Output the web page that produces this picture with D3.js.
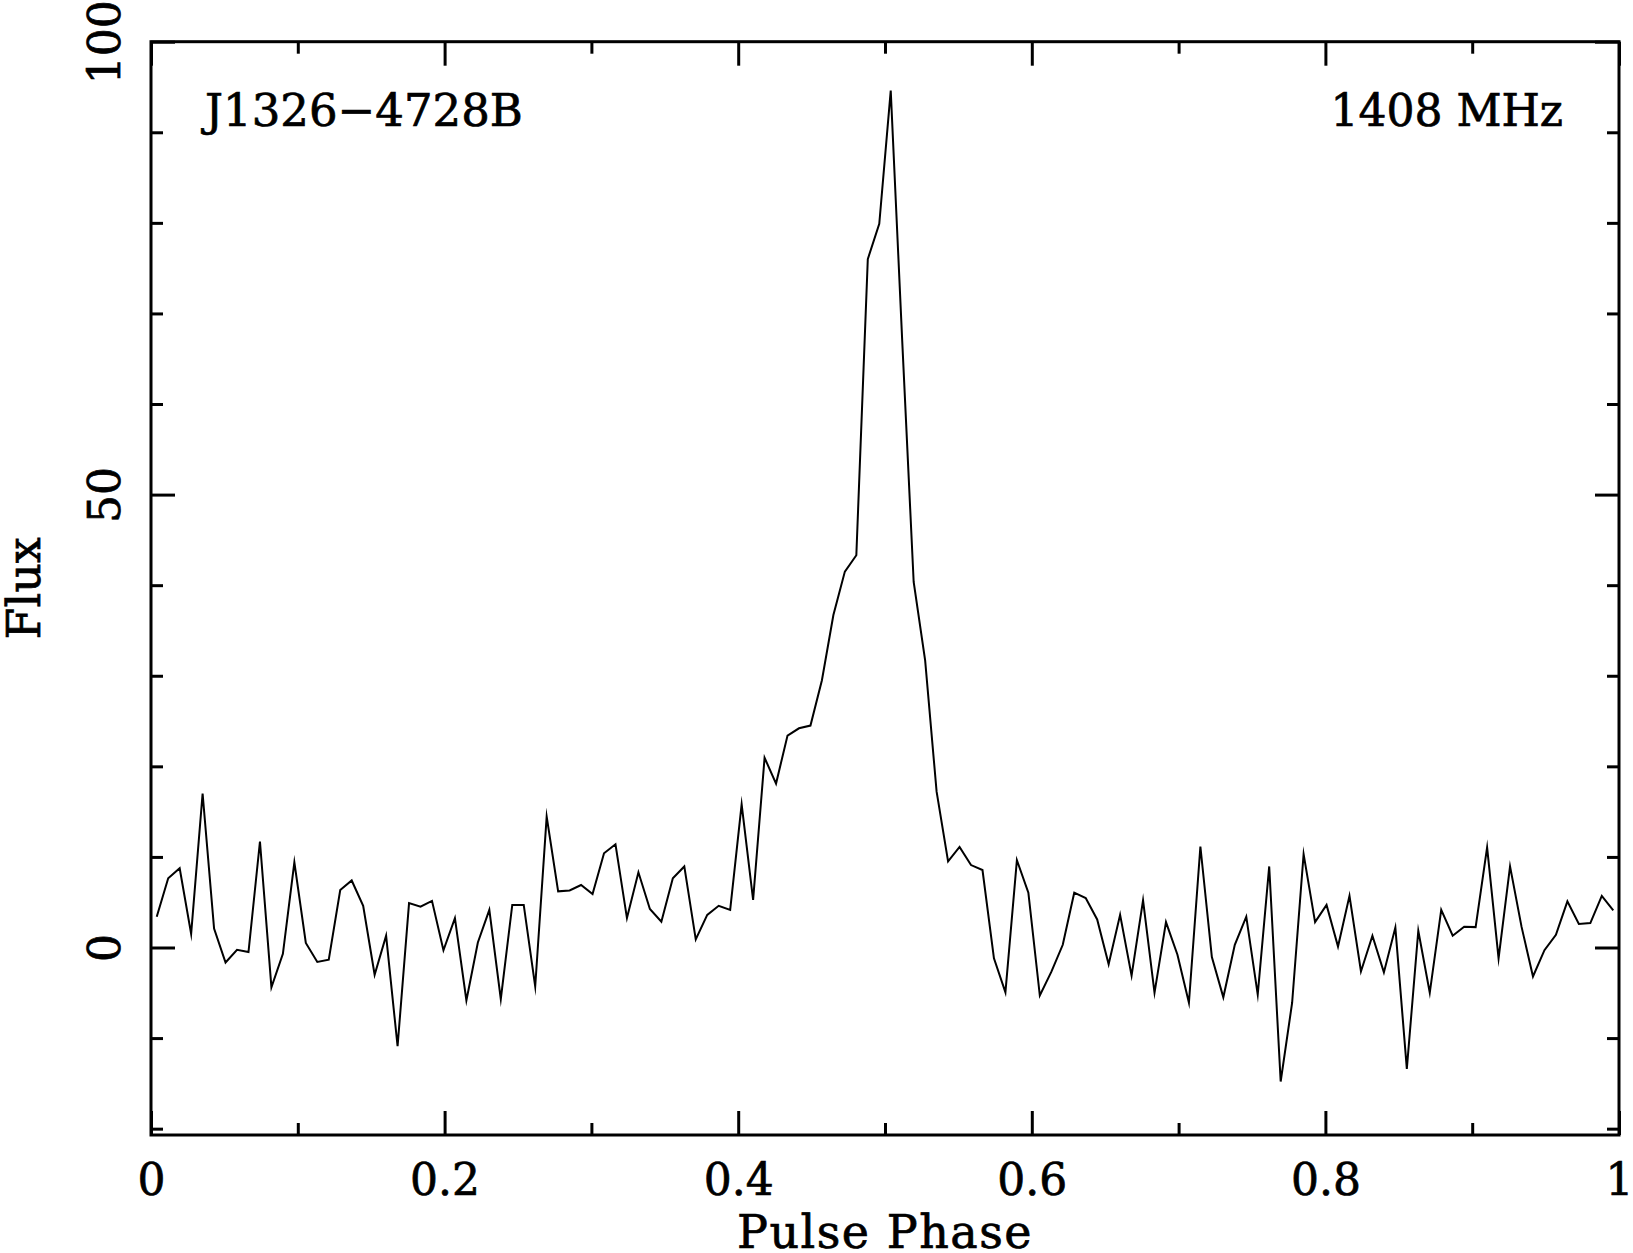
<!DOCTYPE html>
<html>
<head>
<meta charset="utf-8">
<script src="https://cdn.jsdelivr.net/npm/d3@7"></script>
<style>
  html, body { margin: 0; padding: 0; background: #fff; }
  svg { display: block; }
  text { font-family: "DejaVu Serif", serif; fill: #000; stroke: #000; stroke-width: 0.7px; }
</style>
</head>
<body>
<svg id="chart" width="1633" height="1253"></svg>
<script>
// ---- Data ----
const fluxValues = [
  3.4, 7.65, 8.75, 1.5, 17.0, 2.1, -1.65, -0.25, -0.5, 11.7,
  -4.4, -0.7, 9.4, 0.5, -1.6, -1.35, 6.35, 7.4, 4.6, -3.0,
  1.3, -10.9, 4.9, 4.5, 5.15, -0.3, 3.25, -5.85, 0.55, 4.15,
  -5.7, 4.7, 4.7, -4.3, 14.45, 6.2, 6.3, 6.9, 5.9, 10.4,
  11.4, 3.25, 8.3, 4.25, 2.85, 7.65, 8.95, 0.9, 3.6, 4.6,
  4.15, 15.8, 5.25, 20.95, 18.1, 23.4, 24.2, 24.5, 29.5, 36.7,
  41.5, 43.3, 76.0, 79.9, 94.6, 67.0, 40.35, 31.7, 17.2, 9.5,
  11.1, 9.1, 8.55, -1.2, -4.95, 9.65, 6.05, -5.3, -2.7, 0.3,
  6.05, 5.45, 3.1, -1.85, 3.6, -3.1, 5.2, -5.0, 2.8, -0.8,
  -6.1, 11.15, -1.05, -5.5, 0.3, 3.4, -5.2, 8.95, -14.8, -6.1,
  10.3, 2.8, 4.7, 0.1, 5.7, -2.65, 1.3, -2.75, 2.2, -13.4,
  1.85, -5.0, 4.15, 1.3, 2.3, 2.25, 11.05, -1.2, 8.95, 2.3,
  -3.2, -0.3, 1.4, 5.1, 2.6, 2.7, 5.7, 4.1
];
const nBins = 128;                    // profile bins over one rotation
const xMajorTicks = [0, 0.2, 0.4, 0.6, 0.8, 1];
const xTickLabels = ["0", "0.2", "0.4", "0.6", "0.8", "1"];
const xMinorTicks = [0.1, 0.3, 0.5, 0.7, 0.9];
const yMajorTicks = [0, 50, 100];
const yTickLabels = ["0", "50", "100"];
const yMinorTicks = [-20, -10, 10, 20, 30, 40, 60, 70, 80, 90];
const xDomain = [0, 1];
const yDomain = [-20.7, 100];
const sourceName = "J1326\u22124728B";
const frequencyLabel = "1408 MHz";
const xTitle = "Pulse Phase";
const yTitle = "Flux";

// ---- Layout ----
const frame = { left: 151, right: 1619, top: 41.7, bottom: 1135 };
const fontSize = 44;

const svg = d3.select("#chart");
svg.append("rect").attr("width", 1633).attr("height", 1253).attr("fill", "#fff");

const x = d3.scaleLinear().domain(xDomain).range([frame.left, frame.right]);
const y = d3.scaleLinear().domain(yDomain).range([frame.bottom, frame.top]);

const points = fluxValues.map((v, i) => ({ phase: (i + 0.5) / nBins, flux: v }));

// ---- Axes (ticks pointing inward on all four sides) ----
function styleAxis(g) {
  g.select(".domain").remove();
  g.selectAll(".tick line").attr("stroke", "#000").attr("stroke-width", 3);
}

const majorLen = 24, minorLen = 12;

// bottom
const gBottom = svg.append("g").attr("transform", `translate(0,${frame.bottom})`)
  .call(d3.axisBottom(x).tickValues(xMajorTicks).tickSize(-majorLen)
    .tickFormat((d, i) => xTickLabels[i]));
gBottom.call(styleAxis);
gBottom.selectAll(".tick text")
  .attr("y", 60).attr("dy", null)
  .attr("font-size", fontSize).attr("font-family", "DejaVu Serif, serif").attr("fill", "#000");
svg.append("g").attr("transform", `translate(0,${frame.bottom})`)
  .call(d3.axisBottom(x).tickValues(xMinorTicks).tickSize(-minorLen).tickFormat(""))
  .call(styleAxis);

// top
svg.append("g").attr("transform", `translate(0,${frame.top})`)
  .call(d3.axisTop(x).tickValues(xMajorTicks).tickSize(-majorLen).tickFormat(""))
  .call(styleAxis);
svg.append("g").attr("transform", `translate(0,${frame.top})`)
  .call(d3.axisTop(x).tickValues(xMinorTicks).tickSize(-minorLen).tickFormat(""))
  .call(styleAxis);

// left
const gLeft = svg.append("g").attr("transform", `translate(${frame.left},0)`)
  .call(d3.axisLeft(y).tickValues(yMajorTicks).tickSize(-majorLen)
    .tickFormat((d, i) => yTickLabels[i]));
gLeft.call(styleAxis);
gLeft.selectAll(".tick text")
  .attr("x", 0).attr("y", 0).attr("dy", null)
  .attr("text-anchor", "middle")
  .attr("transform", "translate(-31,0) rotate(-90)")
  .attr("font-size", fontSize).attr("font-family", "DejaVu Serif, serif").attr("fill", "#000");
svg.append("g").attr("transform", `translate(${frame.left},0)`)
  .call(d3.axisLeft(y).tickValues(yMinorTicks).tickSize(-minorLen).tickFormat(""))
  .call(styleAxis);

// right
svg.append("g").attr("transform", `translate(${frame.right},0)`)
  .call(d3.axisRight(y).tickValues(yMajorTicks).tickSize(-majorLen).tickFormat(""))
  .call(styleAxis);
svg.append("g").attr("transform", `translate(${frame.right},0)`)
  .call(d3.axisRight(y).tickValues(yMinorTicks).tickSize(-minorLen).tickFormat(""))
  .call(styleAxis);

// frame
svg.append("rect")
  .attr("x", frame.left).attr("y", frame.top)
  .attr("width", frame.right - frame.left).attr("height", frame.bottom - frame.top)
  .attr("fill", "none").attr("stroke", "#000").attr("stroke-width", 3);

// ---- Profile line ----
const line = d3.line().x(d => x(d.phase)).y(d => y(d.flux));
svg.append("path")
  .datum(points)
  .attr("d", line)
  .attr("fill", "none")
  .attr("stroke", "#000")
  .attr("stroke-width", 2)
  .attr("stroke-linejoin", "miter")
  .attr("stroke-miterlimit", 10);

// ---- Labels ----
svg.append("text").attr("x", 205).attr("y", 126)
  .attr("font-size", 45).text(sourceName);
svg.append("text").attr("x", 1563).attr("y", 126)
  .attr("text-anchor", "end").attr("font-size", fontSize).text(frequencyLabel);

svg.append("text")
  .attr("x", (frame.left + frame.right) / 2).attr("y", 1248)
  .attr("text-anchor", "middle").attr("font-size", 46)
  .attr("letter-spacing", 1.5)
  .text(xTitle);

svg.append("text")
  .attr("transform", `translate(40,${(frame.top + frame.bottom) / 2}) rotate(-90)`)
  .attr("text-anchor", "middle").attr("font-size", 46)
  .text(yTitle);
</script>
</body>
</html>
